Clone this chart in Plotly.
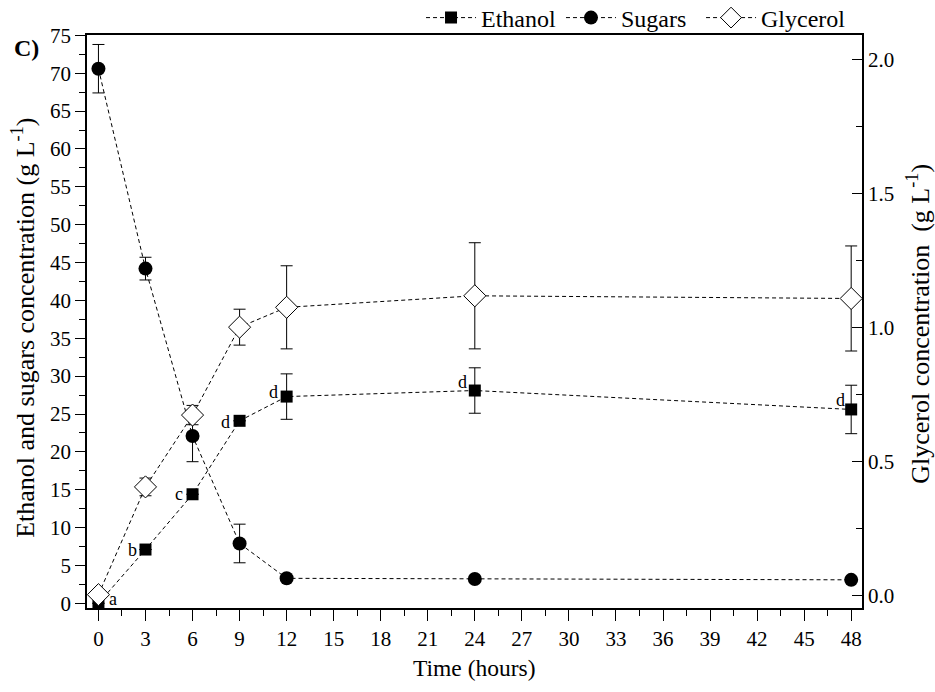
import plotly.graph_objects as go

# Fermentation time course
time_h = [0, 3, 6, 9, 12, 24, 48]

ethanol = [0.0, 7.1, 14.4, 24.1, 27.3, 28.1, 25.6]
ethanol_err = [0.0, 0.0, 0.0, 0.0, 3.0, 3.0, 3.2]
ethanol_letters = ["a", "b", "c", "d", "d", "d", "d"]

sugars = [70.6, 44.2, 22.1, 7.9, 3.3, 3.2, 3.1]
sugars_err = [3.2, 1.5, 3.4, 2.55, 0.0, 0.0, 0.0]

glycerol = [0.005, 0.407, 0.675, 1.003, 1.077, 1.12, 1.11]
glycerol_err = [0.0, 0.033, 0.036, 0.067, 0.155, 0.198, 0.196]

x_ticks = list(range(0, 49, 3))
left_ticks = list(range(0, 76, 5))
right_ticks = [0.0, 0.5, 1.0, 1.5, 2.0]

FONT = "Liberation Serif, Times New Roman, Times, serif"
line_style = dict(color="black", width=1, dash="4px,3px")
err_style = dict(type="data", color="black", thickness=1, width=6)

fig = go.Figure()

fig.add_trace(go.Scatter(
    x=time_h, y=ethanol, name="Ethanol", mode="lines+markers",
    line=line_style, legend="legend",
    marker=dict(symbol="square", size=12, color="black"),
    error_y=dict(array=ethanol_err, **err_style),
))
fig.add_trace(go.Scatter(
    x=time_h, y=sugars, name="Sugars", mode="lines+markers",
    line=line_style, legend="legend2",
    marker=dict(symbol="circle", size=14, color="black"),
    error_y=dict(array=sugars_err, **err_style),
))
fig.add_trace(go.Scatter(
    x=time_h, y=glycerol, name="Glycerol", mode="lines+markers",
    yaxis="y2", line=line_style, legend="legend3",
    marker=dict(symbol="diamond", size=17, color="white",
                line=dict(color="black", width=1)),
    error_y=dict(array=glycerol_err, **err_style),
))

# significance letters next to the ethanol points
letter_shifts = [(15, 4), (-13, 0), (-14, 0), (-14, -1), (-13, 5), (-12, 9), (-11, 9)]
annotations = []
for t, v, s, (dx, dy) in zip(time_h, ethanol, ethanol_letters, letter_shifts):
    annotations.append(dict(
        x=t, y=v, xref="x", yref="y", text=s, showarrow=False,
        xanchor="center", yanchor="middle",
        xshift=dx, yshift=dy, font=dict(family=FONT, size=18, color="black"),
    ))

ytitle_font = dict(family=FONT, size=26, color="black")
annotations += [
    dict(text="Ethanol and sugars concentration (g L<sup>-1</sup>)",
         x=-0.0813, y=0.489, xref="paper", yref="paper", textangle=-90,
         xanchor="center", yanchor="middle", showarrow=False, font=ytitle_font),
    dict(text="Glycerol concentration  (g L<sup>-1</sup>)",
         x=1.0735, y=0.496, xref="paper", yref="paper", textangle=-90,
         xanchor="center", yanchor="middle", showarrow=False, font=ytitle_font),
    dict(text="Time (hours)", x=0.5, y=-0.1047, xref="paper", yref="paper",
         xanchor="center", yanchor="middle", showarrow=False,
         font=dict(family=FONT, size=23.5, color="black")),
    dict(text="<b>C)</b>", x=-0.0787, y=0.977, xref="paper", yref="paper",
         xanchor="center", yanchor="middle", showarrow=False,
         font=dict(family=FONT, size=24, color="black")),
]

axis_common = dict(
    showgrid=False, zeroline=False, showline=True, linecolor="black",
    linewidth=1.5, tickcolor="black", tickwidth=1.2,
    tickfont=dict(family=FONT, size=21, color="black"),
)


def legend_at(x):
    return dict(orientation="h", xref="paper", x=x, xanchor="left",
                yref="container", y=1 - 18 / 692, yanchor="middle",
                font=dict(family=FONT, size=24, color="black"),
                bgcolor="rgba(0,0,0,0)", itemwidth=50)


fig.update_layout(
    width=935, height=692,
    margin=dict(l=87, r=73, t=35, b=84, autoexpand=False),
    paper_bgcolor="white", plot_bgcolor="white",
    font=dict(family=FONT, color="black"),
    showlegend=True,
    legend=legend_at(0.431),
    legend2=legend_at(0.6116),
    legend3=legend_at(0.7923),
    xaxis=dict(
        range=[-0.73, 48.69], tickmode="array", tickvals=x_ticks,
        ticks="outside", ticklen=11, mirror=True,
        minor=dict(dtick=1.5, tick0=0, ticks="outside", ticklen=6,
                   tickcolor="black", tickwidth=1.2),
        **axis_common,
    ),
    yaxis=dict(
        range=[-0.62, 75.05], tickmode="array", tickvals=left_ticks,
        ticks="outside", ticklen=10,
        minor=dict(dtick=2.5, tick0=0, ticks="outside", ticklen=6,
                   tickcolor="black", tickwidth=1.2),
        **axis_common,
    ),
    yaxis2=dict(
        overlaying="y", side="right", anchor="x",
        range=[-0.0448, 2.093], tickmode="array", tickvals=right_ticks,
        tickformat=".1f", ticks="inside", ticklen=10,
        minor=dict(dtick=0.25, tick0=0, ticks="inside", ticklen=6,
                   tickcolor="black", tickwidth=1.2),
        **axis_common,
    ),
    annotations=annotations,
)

fig.write_html("out.html")
